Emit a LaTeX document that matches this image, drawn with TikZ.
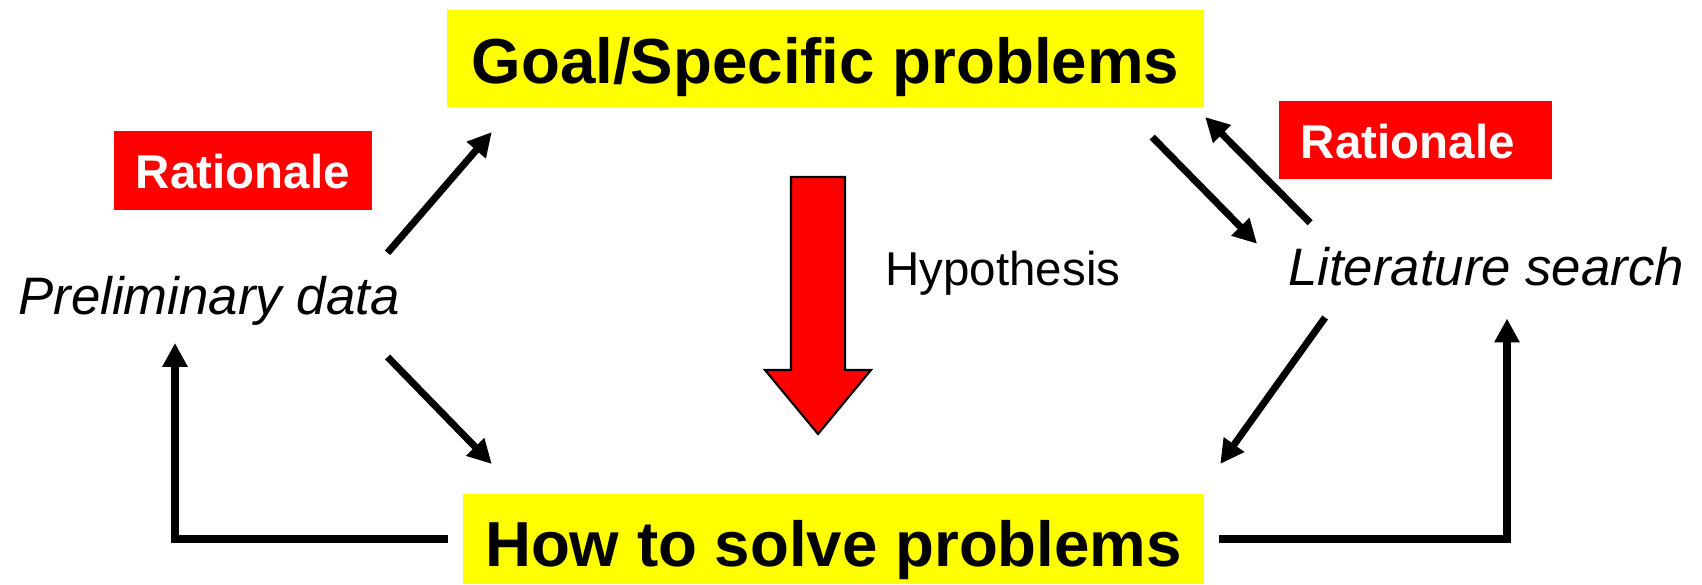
\documentclass[tikz,border=0pt]{standalone}
\usepackage{fontspec}
\setmainfont{Liberation Sans}
\usetikzlibrary{arrows.meta}
\definecolor{hlyellow}{RGB}{255,255,0}
\definecolor{ratred}{RGB}{255,0,0}

\begin{document}
\begin{tikzpicture}[x=0.01cm,y=-0.01cm,
  hlbox/.style={fill=hlyellow,inner sep=0pt,outer sep=0pt,text depth=0pt,font=\fontsize{18.1pt}{20pt}\selectfont\bfseries},
  ratbox/.style={fill=ratred,text=white,inner xsep=0.22cm,inner ysep=0pt,outer sep=0pt,align=left,text height=0.36cm,text depth=0pt,minimum height=0.78cm,font=\fontsize{13.5pt}{15pt}\selectfont\bfseries},
  lbl/.style={inner sep=0pt,outer sep=0pt,anchor=base,font=\fontsize{15pt}{17pt}\selectfont\itshape},
  conn/.style={line width=2pt,-{Triangle[length=6.8pt,width=6.8pt]}}]
  \useasboundingbox (0,0) rectangle (1702,584);
  \node[hlbox,minimum width=7.57cm,minimum height=0.97cm,text height=0.49cm] (goal) at (825.5,58.5) {Goal/Specific problems};
  \node[hlbox,minimum width=7.41cm,minimum height=0.90cm,text height=0.54cm] (howto) at (833.5,539) {How to solve problems};
  \node[ratbox,text width=2.14cm] (ratl) at (243,170.5) {Rationale};
  \node[ratbox,text width=2.29cm] (ratr) at (1415.5,140) {Rationale};
  \node[lbl] (prelim) at (209,314) {Preliminary data};
  \node[lbl] (lit) at (1486,285) {Literature search};
  \node[lbl,font=\fontsize{13.5pt}{15pt}\selectfont] (hyp) at (1003,285) {Hypothesis};
  % big arrow
  \draw[fill=ratred,line width=0.6pt] (791,177) -- (845,177) -- (845,370) -- (871,370) -- (818,434) -- (765,370) -- (791,370) -- cycle;
  % connectors
  \draw[conn] ([shift={(-12,-23)}]prelim.north east) -- ([shift={(45,25)}]goal.south west);
  \draw[conn] ([shift={(-12,32)}]prelim.south east) -- ([shift={(29,-30)}]howto.north west);
  \draw[conn] ([shift={(-15,0)}]howto.west) -| ([shift={(-34,18)}]prelim.south);
  \draw[conn] ([shift={(-52,30)}]goal.south east) -- ([shift={(-31,-3)}]lit.north west);
  \draw[conn] ([shift={(22,-24)}]lit.north west) -- ([shift={(1,10)}]goal.south east);
  \draw[conn] ([shift={(37,32)}]lit.south west) -- ([shift={(16,-30)}]howto.north east);
  \draw[conn] ([shift={(15,0)}]howto.east) -| ([shift={(21,33)}]lit.south);
\end{tikzpicture}
\end{document}
